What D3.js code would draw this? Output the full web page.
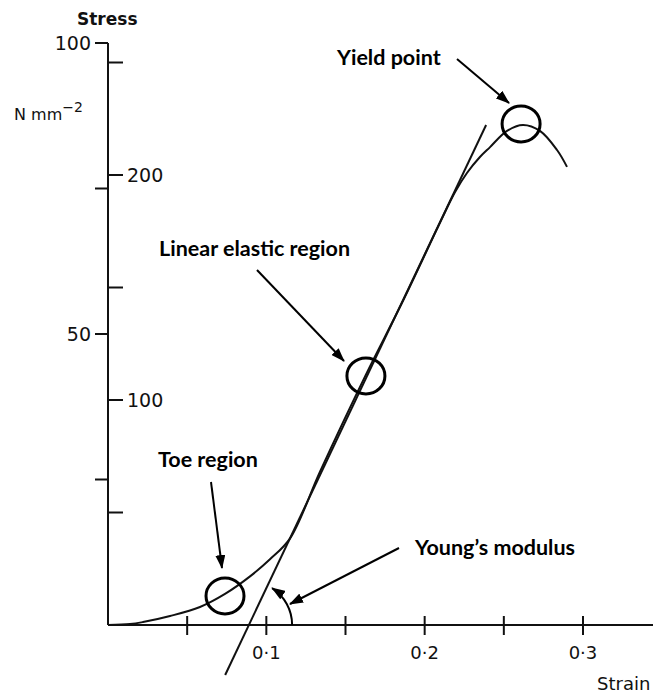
<!DOCTYPE html>
<html>
<head>
<meta charset="utf-8">
<script src="https://cdn.jsdelivr.net/npm/d3@7"></script>
<style>
	body { margin: 0; background: #fff; }
	svg { display: block; }
	.axis-text { font-family: "DejaVu Sans", sans-serif; fill: #111; }
	.note { font-family: Lato, "Open Sans", sans-serif; font-weight: 700; font-size: 21.5px; fill: #000; }
</style>
</head>
<body>
<svg id="graph"></svg>
<script>
var screenWidth = 653;
var screenHeight = 695;

// stress-strain curve (strain, stress in N mm-2)
var strain = [0, 0.0139, 0.0221, 0.0392, 0.0581, 0.0739, 0.0897, 0.1023, 0.1150, 0.1339, 0.1629, 0.1857, 0.2098, 0.2192, 0.2267, 0.2349, 0.2413, 0.2520, 0.2621, 0.2728, 0.2836, 0.2899];
var stress = [0, 0.4, 1.3, 4.0, 8.0, 13.8, 21.6, 29.2, 38.5, 68.2, 111.3, 143.2, 179.0, 192.4, 200.9, 208.0, 212.4, 219.6, 222.2, 219.6, 211.1, 203.6];

// tangent line (Young's modulus)
var tangentStrain = [0.074, 0.2388];
var tangentStress = [-22.2, 222.2];

// axis ticks
var strainTicks = [0.05, 0.1, 0.15, 0.2, 0.25, 0.3];
var strainLabels = ['0·1', '0·2', '0·3'];
var leftTicks = [25, 50, 75, 100];
var leftLabels = ['50', '100'];
var rightTicks = [50, 100, 150, 200, 250];
var rightLabels = ['100', '200'];

// marked points (circles)
var markStrain = [0.0739, 0.1629, 0.2609];
var markStress = [12.9, 110.7, 222.7];

var x = d3.scaleLinear().domain([0, 0.3]).range([108, 583]);
var yN = d3.scaleLinear().domain([0, 100]).range([625, 400]);
var yL = d3.scaleLinear().domain([0, 100]).range([625, 43]);

var svg = d3.select('#graph')
	.attr('width', screenWidth)
	.attr('height', screenHeight);

var defs = svg.append('defs');
defs.append('marker')
	.attr('id', 'head')
	.attr('viewBox', '0 0 14 10')
	.attr('refX', 13)
	.attr('refY', 5)
	.attr('markerWidth', 14)
	.attr('markerHeight', 10)
	.attr('markerUnits', 'userSpaceOnUse')
	.attr('orient', 'auto')
	.append('path')
	.attr('d', 'M0,0 L14,5 L0,10 Z')
	.attr('fill', '#000');

// axes
var axes = svg.append('g').attr('stroke', '#111').attr('stroke-width', 2).attr('fill', 'none');
axes.append('line')
	.attr('x1', x(0)).attr('x2', x(0))
	.attr('y1', yL(100)).attr('y2', yL(0));
axes.append('line')
	.attr('x1', x(0)).attr('x2', screenWidth)
	.attr('y1', yN(0)).attr('y2', yN(0));

axes.selectAll('line.lt')
	.data(leftTicks)
	.enter()
	.append('line')
	.classed('lt', true)
	.attr('x1', x(0) - 13).attr('x2', x(0))
	.attr('y1', function(d) { return yL(d); })
	.attr('y2', function(d) { return yL(d); });

axes.selectAll('line.rt')
	.data(rightTicks)
	.enter()
	.append('line')
	.classed('rt', true)
	.attr('x1', x(0)).attr('x2', x(0) + 15)
	.attr('y1', function(d) { return yN(d); })
	.attr('y2', function(d) { return yN(d); });

axes.selectAll('line.xt')
	.data(strainTicks)
	.enter()
	.append('line')
	.classed('xt', true)
	.attr('x1', function(d) { return x(d); })
	.attr('x2', function(d) { return x(d); })
	.attr('y1', yN(0) - 9).attr('y2', yN(0) + 10);

// tick labels
svg.selectAll('text.ll')
	.data(leftLabels)
	.enter()
	.append('text')
	.attr('class', 'axis-text')
	.attr('font-size', 19)
	.attr('text-anchor', 'end')
	.attr('x', x(0) - 17)
	.attr('y', function(d) { return yL(+d) + 7; })
	.text(function(d) { return d; });

svg.selectAll('text.rl')
	.data(rightLabels)
	.enter()
	.append('text')
	.attr('class', 'axis-text')
	.attr('font-size', 19)
	.attr('x', x(0) + 19)
	.attr('y', function(d) { return yN(+d) + 7; })
	.text(function(d) { return d; });

svg.selectAll('text.xl')
	.data(strainLabels)
	.enter()
	.append('text')
	.attr('class', 'axis-text')
	.attr('font-size', 18)
	.attr('text-anchor', 'middle')
	.attr('x', function(d) { return x(+d.replace('·', '.')); })
	.attr('y', 659)
	.text(function(d) { return d; });

svg.append('text')
	.attr('class', 'axis-text')
	.attr('font-size', 17)
	.attr('font-weight', 'bold')
	.attr('x', 77).attr('y', 25)
	.text('Stress');

var unit = svg.append('text')
	.attr('class', 'axis-text')
	.attr('font-size', 16)
	.attr('x', 14).attr('y', 120);
unit.append('tspan').text('N mm');
unit.append('tspan').attr('dy', -8).attr('font-size', 14).text('−2');

svg.append('text')
	.attr('class', 'axis-text')
	.attr('font-size', 18)
	.attr('x', 597).attr('y', 690)
	.text('Strain');

// curve
var points = strain.map(function(s, i) { return [s, stress[i]]; });
var line = d3.line()
	.x(function(d) { return x(d[0]); })
	.y(function(d) { return yN(d[1]); })
	.curve(d3.curveCatmullRom.alpha(0.5));

svg.append('path')
	.datum(points)
	.attr('d', line)
	.attr('fill', 'none')
	.attr('stroke', '#111')
	.attr('stroke-width', 2);

svg.append('path')
	.datum(tangentStrain.map(function(s, i) { return [s, tangentStress[i]]; }))
	.attr('d', d3.line().x(function(d) { return x(d[0]); }).y(function(d) { return yN(d[1]); }))
	.attr('fill', 'none')
	.attr('stroke', '#111')
	.attr('stroke-width', 2);

// circles
svg.selectAll('ellipse.mark')
	.data(markStrain)
	.enter()
	.append('ellipse')
	.classed('mark', true)
	.attr('cx', function(d) { return x(d); })
	.attr('cy', function(d, i) { return yN(markStress[i]); })
	.attr('rx', 19)
	.attr('ry', 18)
	.attr('fill', 'none')
	.attr('stroke', '#000')
	.attr('stroke-width', 3);

// annotations
var notes = [
	{ text: 'Yield point', tx: 337, ty: 65, from: [457, 59], to: [509, 103] },
	{ text: 'Linear elastic region', tx: 159, ty: 256, from: [257, 270], to: [344, 361] },
	{ text: 'Toe region', tx: 158, ty: 467, from: [211, 482], to: [222, 568] },
	{ text: 'Young\u2019s modulus', tx: 415, ty: 555, from: [399, 548], to: [290, 604] }
];

svg.selectAll('text.note')
	.data(notes)
	.enter()
	.append('text')
	.attr('class', 'note')
	.attr('x', function(d) { return d.tx; })
	.attr('y', function(d) { return d.ty; })
	.text(function(d) { return d.text; });

svg.selectAll('line.arrow')
	.data(notes)
	.enter()
	.append('line')
	.classed('arrow', true)
	.attr('x1', function(d) { return d.from[0]; })
	.attr('y1', function(d) { return d.from[1]; })
	.attr('x2', function(d) { return d.to[0]; })
	.attr('y2', function(d) { return d.to[1]; })
	.attr('stroke', '#000')
	.attr('stroke-width', 2)
	.attr('marker-end', 'url(#head)');

// angle arc at the tangent's intercept
var cx = x(0.0885), cy = yN(0), r = 44, a = 57 * Math.PI / 180;
svg.append('path')
	.attr('d', 'M' + (cx + r) + ',' + cy + ' A' + r + ',' + r + ' 0 0,0 ' + (cx + r * Math.cos(a)) + ',' + (cy - r * Math.sin(a)))
	.attr('fill', 'none')
	.attr('stroke', '#000')
	.attr('stroke-width', 2)
	.attr('marker-end', 'url(#head)');
</script>
</body>
</html>
